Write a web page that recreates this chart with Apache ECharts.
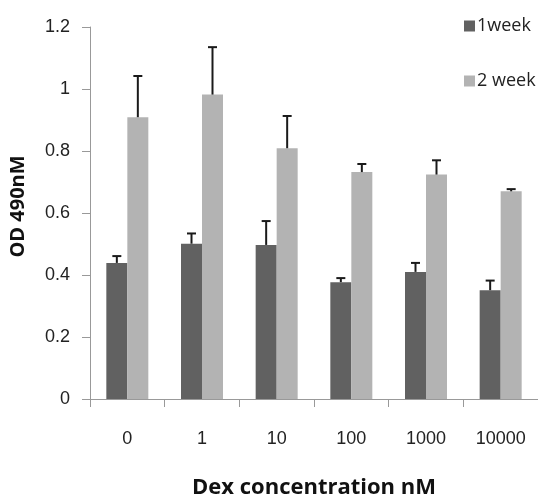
<!DOCTYPE html>
<html><head><meta charset="utf-8">
<script src="https://cdn.jsdelivr.net/npm/echarts@6/dist/echarts.min.js"></script>
<style>html,body{margin:0;padding:0;background:#fff}#c{width:538px;height:504px}</style>
</head><body><div id="c"></div>
<script>
const categories = ['0', '1', '10', '100', '1000', '10000'];
const week1 = [0.439, 0.501, 0.497, 0.377, 0.410, 0.351];
const week2 = [0.909, 0.982, 0.809, 0.732, 0.724, 0.670];
const week1Err = [0.022, 0.033, 0.077, 0.013, 0.029, 0.031];
const week2Err = [0.133, 0.153, 0.104, 0.026, 0.046, 0.007];
const yTicks = [0, 0.2, 0.4, 0.6, 0.8, 1, 1.2];

const BAR_W = 21;
function errSeries(vals, errs, offset) {
  return {
    type: 'custom',
    silent: true,
    z: 5,
    data: vals.map((v, i) => [i, v, errs[i]]),
    renderItem: function (params, api) {
      const i = api.value(0), v = api.value(1), e = api.value(2);
      const b = api.coord([i, v]);
      const t = api.coord([i, v + e]);
      const x = b[0] + offset;
      const st = { stroke: '#1a1a1a', lineWidth: 2 };
      return {
        type: 'group',
        children: [
          { type: 'line', shape: { x1: x, y1: b[1], x2: x, y2: t[1] }, style: st },
          { type: 'line', shape: { x1: x - 4.5, y1: t[1], x2: x + 4.5, y2: t[1] }, style: st }
        ]
      };
    }
  };
}

const chart = echarts.init(document.getElementById('c'), null, { renderer: 'canvas' });
chart.setOption({
  animation: false,
  backgroundColor: '#fff',
  legend: {
    orient: 'vertical',
    left: 459,
    top: 12,
    itemWidth: 11,
    itemHeight: 11,
    itemGap: 37,
    icon: 'rect',
    textStyle: { fontFamily: 'Open Sans', fontSize: 18, color: '#222', padding: [0, 0, 0, -3] },
    data: ['1week', '2 week']
  },
  grid: { left: 90, top: 27, width: 453.6, height: 375 },
  xAxis: {
    type: 'category',
    data: categories,
    name: 'Dex concentration nM',
    nameLocation: 'middle',
    nameGap: 78,
    nameTextStyle: { fontFamily: 'Open Sans', fontWeight: 'bold', fontSize: 22, color: '#111' },
    axisLine: { lineStyle: { color: '#999', width: 1 } },
    axisTick: { show: true, length: 8, lineStyle: { color: '#999' } },
    axisLabel: { margin: 31, fontFamily: 'Liberation Sans', fontSize: 18, color: '#222' }
  },
  yAxis: {
    type: 'value',
    min: 0, max: 1.2, interval: 0.2,
    name: 'OD 490nM',
    nameLocation: 'middle',
    nameGap: 62,
    nameTextStyle: { fontFamily: 'Open Sans', fontWeight: 'bold', fontSize: 20, color: '#111', padding: [0, 0, 0, 13] },
    splitLine: { show: false },
    axisLine: { show: true, lineStyle: { color: '#999', width: 1 } },
    axisTick: { show: true, length: 8, lineStyle: { color: '#999' } },
    axisLabel: {
      margin: 20, fontFamily: 'Liberation Sans', fontSize: 18, color: '#222',
      formatter: v => String(yTicks.find(t => Math.abs(t - v) < 1e-9) ?? v)
    }
  },
  series: [
    { name: '1week', type: 'bar', data: week1, barWidth: BAR_W, barGap: '0%', itemStyle: { color: '#616161' } },
    { name: '2 week', type: 'bar', data: week2, barWidth: BAR_W, barGap: '0%', itemStyle: { color: '#b3b3b3' } },
    errSeries(week1, week1Err, -BAR_W / 2),
    errSeries(week2, week2Err, BAR_W / 2)
  ]
});
</script></body></html>
